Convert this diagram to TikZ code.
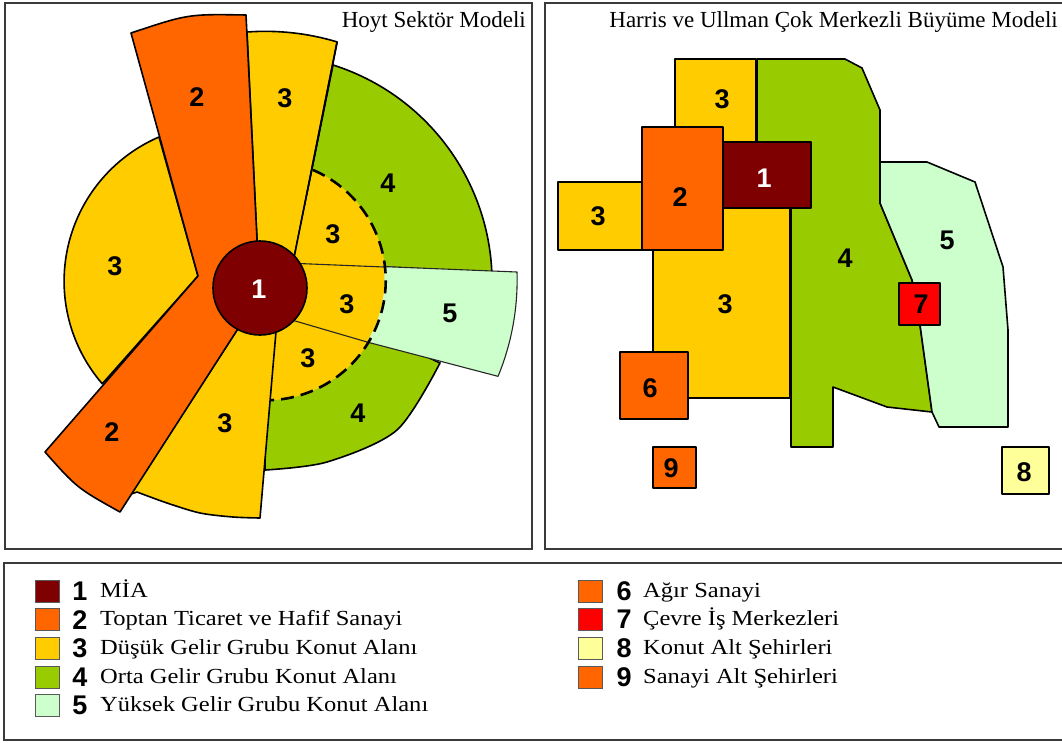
\documentclass[tikz,border=0pt]{standalone}
\usepackage{fontspec}
\setmainfont{Liberation Serif}
\newfontfamily\numfont{Liberation Sans}
\newfontfamily\legfont[FakeStretch=1.14]{Liberation Serif}
\definecolor{cMIA}{HTML}{7F0000}
\definecolor{cOr}{HTML}{FF6600}
\definecolor{cYe}{HTML}{FFCC00}
\definecolor{cGr}{HTML}{99CC00}
\definecolor{cLg}{HTML}{CCFFCC}
\definecolor{cRe}{HTML}{FF0000}
\definecolor{cLy}{HTML}{FFFF99}
\definecolor{cFrame}{HTML}{3A3A3A}
\tikzset{
  zone/.style={draw=black, line width=1.6pt, line join=round},
  thinzone/.style={draw=black!85, line width=1.1pt, line join=round},
  dasharc/.style={draw=black, line width=2.6pt, dash pattern=on 13pt off 7pt},
  panelframe/.style={draw=cFrame, line width=2.6pt},
  numlab/.style={font=\numfont\bfseries\fontsize{27}{27}\selectfont, inner sep=0pt, text=black},
  wnumlab/.style={numlab, text=white},
  ttl/.style={font=\fontsize{23}{23}\selectfont, inner sep=0pt, anchor=base east},
  legtxt/.style={font=\legfont\fontsize{21.5}{21.5}\selectfont, inner sep=0pt, anchor=base west},
  swatch/.style={draw=black!65, line width=1pt},
}
\begin{document}
\begin{tikzpicture}[x=1pt,y=-1pt]
\useasboundingbox (0,0) rectangle (1062,742);
\clip (0,0) rectangle (1062,742);
\fill[white] (0,0) rectangle (1062,742);

% ================= LEFT PANEL : HOYT =================
\draw[panelframe] (5,3) rectangle (532,549);
\node[ttl] (t1) at (526,27) {Hoyt Sektör Modeli};

% left yellow sector
\filldraw[zone, fill=cYe] (198,276) -- (159,137) arc[start angle=246.7, end angle=139.2, radius=157] -- cycle;
% upper green sector
\filldraw[zone, fill=cGr] (333,65) arc[start angle=-72.4, end angle=-2.5, radius=228] -- (385,267) -- (297,243) -- cycle;
% lower green sector
\filldraw[zone, fill=cGr] (265,280) -- plot[smooth] coordinates {(440,363) (397,430) (327,462) (265,470)} -- cycle;
% upper yellow sector
\filldraw[zone, fill=cYe] (247,32) arc[start angle=-94.2, end angle=-73.2, radius=249] -- (291.6,270) -- (260,288) -- (258,260) -- cycle;
% inner yellow zone
\fill[cYe] (291.6,270) -- (313,170) arc[start angle=-66.8, end angle=87.6, radius=120] -- (277,320) -- (262,288) -- cycle;
% sector 5
\fill[cLg] (383.8,266.6) -- (517,272) arc[start angle=-1.8, end angle=22.4, radius=253] -- (367,342) arc[start angle=31.3, end angle=-6.2, radius=120] -- cycle;
% lower yellow sector
\filldraw[zone, fill=cYe] (131,494) -- plot[smooth] coordinates {(137,492) (167,503) (200,513) (233,517) (260,518)} -- (277,320) -- (250,310) -- cycle;
% outline of sector 5
\draw[thinzone] (383.8,266.6) -- (517,272) arc[start angle=-1.8, end angle=22.4, radius=253] -- (367,342);
% inner lines
\draw[zone] (337,42) -- (291.6,270);
\draw[thinzone] (262,262) -- (384,267);
\draw[thinzone] (285,318) -- (367,342);
\draw[dasharc] (313,170) arc[start angle=-66.8, end angle=87.6, radius=120];
% orange band (sector 2, both arms)
\filldraw[zone, fill=cOr] (131,33) .. controls (188,14) .. (246,15) -- (258,260) -- (262,288) -- (250,310) -- (120,512) .. controls (77,488) .. (45,452) -- (198,276) -- cycle;
% CBD
\filldraw[zone, fill=cMIA] (260,288) circle[radius=47];

\node[numlab] (h2a) at (197,97) {2};
\node[numlab] (h3a) at (285,98) {3};
\node[numlab] (h3b) at (115,266) {3};
\node[numlab] (h4a) at (388,183) {4};
\node[numlab] (h3c) at (333,234) {3};
\node[wnumlab] (h1) at (259,289) {1};
\node[numlab] (h3d) at (347,304) {3};
\node[numlab] (h5) at (450,313) {5};
\node[numlab] (h3e) at (308,358) {3};
\node[numlab] (h2b) at (112,432) {2};
\node[numlab] (h3f) at (225,423) {3};
\node[numlab] (h4b) at (358,413) {4};

% ================= RIGHT PANEL : HARRIS-ULLMAN =================
\draw[panelframe] (545,3) rectangle (1080,549);
\node[ttl] (t2) at (1058,27) {Harris ve Ullman Çok Merkezli Büyüme Modeli};

\filldraw[zone, fill=cGr] (757,59) -- (845,59) -- (862,68) -- (880,110) -- (880,203) -- (912,280) -- (920,325) -- (932,412) -- (887,407) -- (833,387) -- (833,447) -- (791,447) -- (791,200) -- (757,200) -- cycle;
\filldraw[zone, fill=cLg] (880,162) -- (927,162) -- (975,182) -- (1003,267) -- (1008,330) -- (1008,427) -- (939,427) -- (932,412) -- (920,325) -- (912,280) -- (880,203) -- cycle;
\filldraw[zone, fill=cYe] (675,59) rectangle (756,145);
\filldraw[zone, fill=cYe] (653,205) rectangle (790,398);
\filldraw[zone, fill=cYe] (558,182) rectangle (642,250);
\filldraw[zone, fill=cOr] (642,127) rectangle (723,250);
\filldraw[zone, fill=cMIA] (723,142) rectangle (811,208);
\filldraw[zone, fill=cOr] (620,352) rectangle (688,419);
\filldraw[zone, fill=cOr] (653,447) rectangle (696,488);
\filldraw[zone, fill=cRe] (899,283) rectangle (940,325);
\filldraw[zone, fill=cLy] (1002,447) rectangle (1049,494);

\node[numlab] (m3a) at (722,99) {3};
\node[wnumlab] (m1) at (764,178) {1};
\node[numlab] (m2) at (680,197) {2};
\node[numlab] (m3b) at (598,216) {3};
\node[numlab] (m3c) at (725,304) {3};
\node[numlab] (m4) at (845,258) {4};
\node[numlab] (m5) at (947,240) {5};
\node[numlab] (m7) at (921,304) {7};
\node[numlab] (m6) at (650,388) {6};
\node[numlab] (m9) at (671,468) {9};
\node[numlab] (m8) at (1024,472) {8};

% ================= LEGEND =================
\draw[panelframe] (4,563) rectangle (1080,740);

\foreach \c/\n/\t [count=\i from 0] in {cMIA/1/MİA, cOr/2/Toptan Ticaret ve Hafif Sanayi, cYe/3/Düşük Gelir Grubu Konut Alanı, cGr/4/Orta Gelir Grubu Konut Alanı, cLg/5/Yüksek Gelir Grubu Konut Alanı}{
  \filldraw[swatch, fill=\c] (35,580+\i*28.7) rectangle (59,602+\i*28.7);
  \node[numlab] (ln\i) at (80,591+\i*28.7) {\n};
  \node[legtxt] (lt\i) at (100,597+\i*28.7) {\t};
}
\foreach \c/\n/\t [count=\i from 0] in {cOr/6/Ağır Sanayi, cRe/7/Çevre İş Merkezleri, cLy/8/Konut Alt Şehirleri, cOr/9/Sanayi Alt Şehirleri}{
  \filldraw[swatch, fill=\c] (578,580+\i*28.7) rectangle (602,602+\i*28.7);
  \node[numlab] (rn\i) at (624,591+\i*28.7) {\n};
  \node[legtxt] (rt\i) at (643,597+\i*28.7) {\t};
}
\end{tikzpicture}
\end{document}
